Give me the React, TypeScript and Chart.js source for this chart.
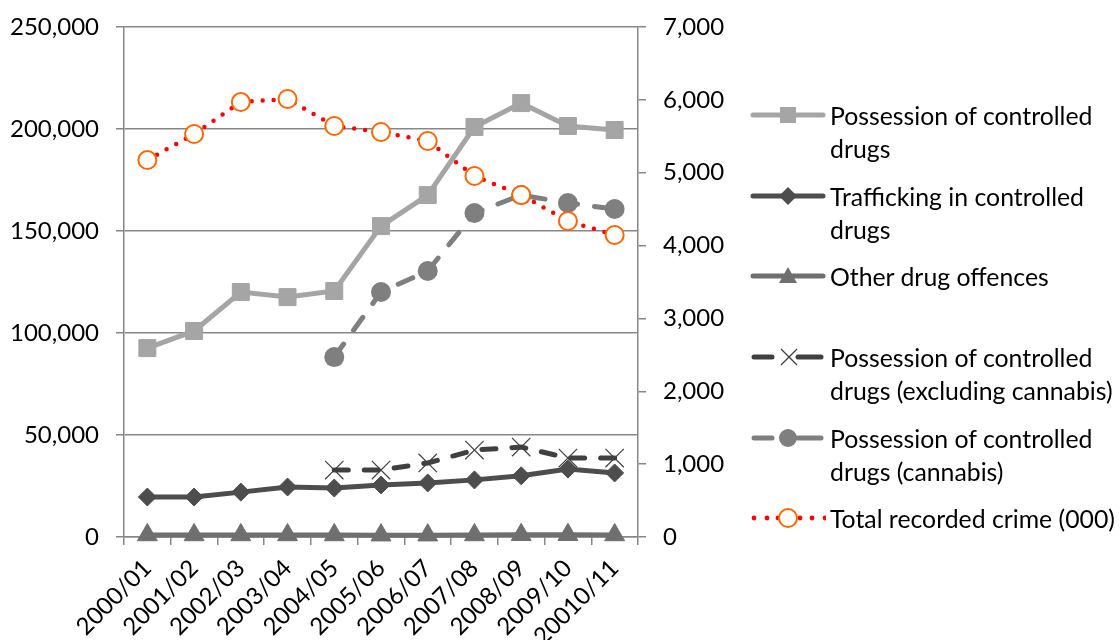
import React, { useEffect, useRef } from 'react';
import { Chart, registerables } from 'chart.js';

Chart.register(...registerables);

const categories = ['2000/01', '2001/02', '2002/03', '2003/04', '2004/05', '2005/06', '2006/07', '2007/08', '2008/09', '2009/10', '20010/11'];
const possession = [92600, 101000, 120100, 117600, 120600, 152400, 167600, 201000, 212700, 201500, 199500];
const trafficking = [19600, 19600, 22000, 24500, 24000, 25500, 26500, 28000, 30000, 33300, 31400];
const otherOffences = [1000, 1000, 1000, 1000, 1000, 900, 900, 1000, 1100, 1100, 1000];
const possessionExclCannabis = [null, null, null, null, 32800, 32800, 36300, 42600, 44100, 38700, 38700];
const possessionCannabis = [null, null, null, null, 88200, 120100, 130400, 158800, 167600, 163700, 160800];
const totalCrime = [5174, 5531, 5970, 6012, 5641, 5559, 5435, 4955, 4694, 4337, 4145];

const leftTicks = { min: 0, max: 250000, step: 50000 };
const rightTicks = { min: 0, max: 7000, step: 1000 };

const legendLabels = [
  'Possession of controlled drugs',
  'Trafficking in controlled drugs',
  'Other drug offences',
  'Possession of controlled drugs (excluding cannabis)',
  'Possession of controlled drugs (cannabis)',
  'Total recorded crime (000)',
];

const GRID = '#878787';
const FONT = 'Lato';
const C_POS = '#a5a5a5';
const C_TRAF = '#4d4d4d';
const C_OTHER = '#6f6f6f';
const C_EXCL = '#404040';
const C_CAN = '#7f7f7f';
const C_RED = '#ff0000';
const C_ORANGE = '#ff6600';

function Icon({ kind }: { kind: number }) {
  const w = 76, h = 24, cy = 12;
  if (kind === 0) {
    return (
      <svg width={w} height={h}>
        <line x1={3} y1={cy} x2={73} y2={cy} stroke={C_POS} strokeWidth={5} strokeLinecap="round" />
        <rect x={30} y={cy - 8} width={16} height={16} fill={C_POS} />
      </svg>
    );
  }
  if (kind === 1) {
    return (
      <svg width={w} height={h}>
        <line x1={3} y1={cy} x2={73} y2={cy} stroke={C_TRAF} strokeWidth={5} strokeLinecap="round" />
        <polygon points={`38,${cy - 9} 47,${cy} 38,${cy + 9} 29,${cy}`} fill={C_TRAF} />
      </svg>
    );
  }
  if (kind === 2) {
    return (
      <svg width={w} height={h}>
        <line x1={3} y1={cy} x2={73} y2={cy} stroke={C_OTHER} strokeWidth={5} strokeLinecap="round" />
        <polygon points={`38,${cy - 9} 47,${cy + 7} 29,${cy + 7}`} fill={C_OTHER} />
      </svg>
    );
  }
  if (kind === 3) {
    return (
      <svg width={w} height={h}>
        <line x1={4} y1={cy} x2={22} y2={cy} stroke={C_EXCL} strokeWidth={5} strokeLinecap="round" />
        <line x1={48} y1={cy} x2={71} y2={cy} stroke={C_EXCL} strokeWidth={5} strokeLinecap="round" />
        <line x1={31} y1={cy - 8} x2={47} y2={cy + 8} stroke={C_EXCL} strokeWidth={1.2} />
        <line x1={47} y1={cy - 8} x2={31} y2={cy + 8} stroke={C_EXCL} strokeWidth={1.2} />
      </svg>
    );
  }
  if (kind === 4) {
    return (
      <svg width={w} height={h}>
        <line x1={4} y1={cy} x2={22} y2={cy} stroke={C_CAN} strokeWidth={5} strokeLinecap="round" />
        <line x1={48} y1={cy} x2={71} y2={cy} stroke={C_CAN} strokeWidth={5} strokeLinecap="round" />
        <circle cx={38} cy={cy} r={9} fill={C_CAN} />
      </svg>
    );
  }
  return (
    <svg width={w} height={h}>
      {[4, 17, 28, 50, 62, 75].map((x) => (
        <circle key={x} cx={x} cy={cy} r={2.4} fill={C_RED} />
      ))}
      <circle cx={38} cy={cy} r={9} fill="#fff" stroke={C_ORANGE} strokeWidth={2} />
    </svg>
  );
}

const legendCenters = [115, 196, 276, 357, 438, 518];

export default function App() {
  const ref = useRef<HTMLCanvasElement | null>(null);

  useEffect(() => {
    if (!ref.current) return;
    const font = { family: FONT, size: 24 };
    const fmt = (v: any) => Number(v).toLocaleString('en-US');
    const fitY = (w: number) => (s: any) => {
      s.width = w;
      s.paddingTop = 0;
      s.paddingBottom = 0;
    };
    const chart = new Chart(ref.current, {
      type: 'line',
      data: {
        labels: categories,
        datasets: [
          {
            label: legendLabels[0],
            data: possession,
            yAxisID: 'y',
            borderColor: C_POS,
            backgroundColor: C_POS,
            borderWidth: 5,
            pointStyle: 'rect',
            pointRadius: 12,
            pointBorderWidth: 1,
            pointBorderColor: C_POS,
            pointBackgroundColor: C_POS,
            order: 5,
            clip: false,
          },
          {
            label: legendLabels[1],
            data: trafficking,
            yAxisID: 'y',
            borderColor: C_TRAF,
            backgroundColor: C_TRAF,
            borderWidth: 5,
            pointStyle: 'rectRot',
            pointRadius: 9,
            pointBorderWidth: 1,
            pointBorderColor: C_TRAF,
            pointBackgroundColor: C_TRAF,
            order: 4,
            clip: false,
          },
          {
            label: legendLabels[2],
            data: otherOffences,
            yAxisID: 'y',
            borderColor: C_OTHER,
            backgroundColor: C_OTHER,
            borderWidth: 5,
            pointStyle: 'triangle',
            pointRadius: 11.5,
            pointBorderWidth: 1,
            pointBorderColor: C_OTHER,
            pointBackgroundColor: C_OTHER,
            order: 3,
            clip: false,
          },
          {
            label: legendLabels[3],
            data: possessionExclCannabis,
            yAxisID: 'y',
            borderColor: C_EXCL,
            backgroundColor: C_EXCL,
            borderWidth: 5,
            borderDash: [14, 16],
            borderCapStyle: 'round',
            pointStyle: 'crossRot',
            pointRadius: 13,
            pointBorderWidth: 1.2,
            pointBorderColor: C_EXCL,
            order: 2,
            clip: false,
          },
          {
            label: legendLabels[4],
            data: possessionCannabis,
            yAxisID: 'y',
            borderColor: C_CAN,
            backgroundColor: C_CAN,
            borderWidth: 5,
            borderDash: [16, 17],
            borderCapStyle: 'round',
            pointStyle: 'circle',
            pointRadius: 10,
            pointBorderWidth: 0,
            pointBackgroundColor: C_CAN,
            order: 1,
            clip: false,
          },
          {
            label: legendLabels[5],
            data: totalCrime,
            yAxisID: 'y2',
            borderColor: C_RED,
            backgroundColor: '#ffffff',
            borderWidth: 4.5,
            borderDash: [0, 11],
            borderCapStyle: 'round',
            pointStyle: 'circle',
            pointRadius: 9,
            pointBorderWidth: 2,
            pointBorderColor: C_ORANGE,
            pointBackgroundColor: '#ffffff',
            order: 0,
            clip: false,
          },
        ],
      },
      options: {
        responsive: false,
        animation: false,
        devicePixelRatio: 1,
        layout: { padding: { top: 27, right: 380, left: 0, bottom: 0 } },
        plugins: { legend: { display: false }, tooltip: { enabled: false } },
        elements: { line: { tension: 0 } },
        scales: {
          x: {
            offset: true,
            grid: { offset: true, drawOnChartArea: false, drawTicks: true, tickLength: 8, color: GRID, lineWidth: 1.5 },
            border: { display: true, color: GRID, width: 1.5 },
            ticks: { minRotation: 45, maxRotation: 45, autoSkip: false, font, color: '#000', padding: 9 },
            afterFit: (s: any) => { s.height = 103; },
          },
          y: {
            position: 'left',
            min: leftTicks.min,
            max: leftTicks.max,
            ticks: { stepSize: leftTicks.step, font, color: '#000', padding: 17, callback: fmt },
            grid: { color: GRID, lineWidth: 1.5, tickLength: 8 },
            border: { display: true, color: GRID, width: 1.5 },
            afterFit: fitY(124),
          },
          y2: {
            position: 'right',
            min: rightTicks.min,
            max: rightTicks.max,
            ticks: { stepSize: rightTicks.step, font, color: '#000', padding: 17, callback: fmt },
            grid: { drawOnChartArea: false, color: GRID, lineWidth: 1.5, tickLength: 8 },
            border: { display: true, color: GRID, width: 1.5 },
            afterFit: fitY(102),
          },
        },
      },
    } as any);
    return () => chart.destroy();
  }, []);

  return (
    <div style={{ position: 'absolute', left: 0, top: 0, width: 1120, height: 640, background: '#fff', overflow: 'hidden' }}>
      <canvas ref={ref} width={1120} height={640} style={{ position: 'absolute', left: 0, top: 0, width: 1120, height: 640 }} />
      {legendLabels.map((label, i) => (
        <div key={i} style={{ position: 'absolute', left: 750, top: legendCenters[i] - 12, width: 76, height: 24 }}>
          <Icon kind={i} />
        </div>
      ))}
      {legendLabels.map((label, i) => (
        <div
          key={'t' + i}
          style={{
            position: 'absolute',
            left: 830,
            top: legendCenters[i] - 16.5,
            width: 290,
            fontFamily: FONT,
            fontSize: 24.8,
            lineHeight: '33px',
            color: '#000',
            whiteSpace: 'normal',
          }}
        >
          {label}
        </div>
      ))}
    </div>
  );
}
